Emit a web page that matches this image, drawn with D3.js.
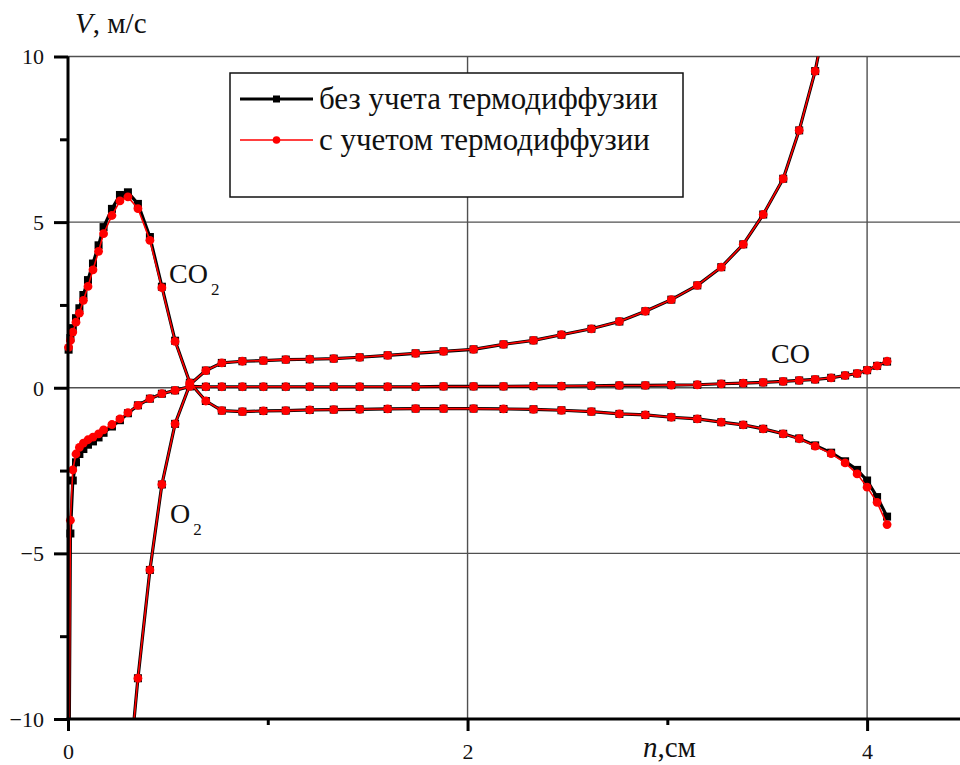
<!DOCTYPE html>
<html>
<head>
<meta charset="utf-8">
<script src="https://cdn.jsdelivr.net/npm/d3@7"></script>
<style>
  body { margin: 0; background: #fff; }
  svg text { font-family: "Liberation Serif", "Times New Roman", Tinos, "DejaVu Serif", serif !important; fill: #111; }
</style>
</head>
<body>
<div id="wrapper"></div>
<script>
// shared mesh along n, cm
const nGrid = [0.003, 0.012, 0.024, 0.04, 0.057, 0.077, 0.10, 0.125, 0.153, 0.178,
    0.22, 0.26, 0.30, 0.35, 0.41, 0.47, 0.536, 0.61, 0.69, 0.77,
    0.873, 0.978, 1.09, 1.21, 1.33, 1.46, 1.60, 1.74, 1.88, 2.03,
    2.18, 2.33, 2.47, 2.62, 2.76, 2.89, 3.02, 3.15, 3.27, 3.38,
    3.48, 3.58, 3.66, 3.74, 3.82, 3.89, 3.95, 4.00, 4.05, 4.10];

// CO2, without / with thermodiffusion
const co2Black = [1.15, 1.5, 1.8, 2.1, 2.4, 2.8, 3.25, 3.75, 4.3, 4.85,
    5.4, 5.82, 5.9, 5.55, 4.55, 3.05, 1.42, 0.15, -0.40, -0.69,
    -0.72, -0.70, -0.69, -0.67, -0.66, -0.65, -0.64, -0.63, -0.63, -0.63,
    -0.64, -0.65, -0.68, -0.72, -0.79, -0.82, -0.89, -0.94, -1.04, -1.12,
    -1.24, -1.39, -1.53, -1.74, -1.96, -2.22, -2.48, -2.80, -3.30, -3.89];
const co2Red = [1.22, 1.43, 1.68, 1.98, 2.25, 2.64, 3.06, 3.56, 4.12, 4.65,
    5.2, 5.64, 5.76, 5.41, 4.45, 3.02, 1.40, 0.15, -0.40, -0.69,
    -0.72, -0.70, -0.69, -0.67, -0.66, -0.65, -0.64, -0.63, -0.63, -0.63,
    -0.64, -0.65, -0.68, -0.72, -0.79, -0.82, -0.89, -0.94, -1.04, -1.12,
    -1.24, -1.39, -1.54, -1.76, -1.99, -2.27, -2.60, -3.00, -3.46, -4.13];

// O2 (both series coincide)
const o2Black = [null, null, null, null, null, null, null, null, null, null,
    null, null, -12.0, -8.77, -5.5, -2.92, -1.09, 0.10, 0.52, 0.75,
    0.80, 0.82, 0.85, 0.86, 0.88, 0.92, 0.98, 1.04, 1.10, 1.16,
    1.31, 1.43, 1.60, 1.78, 2.00, 2.31, 2.66, 3.09, 3.64, 4.33,
    5.23, 6.31, 7.77, 9.56, 12.0, null, null, null, null, null];
const o2Red = o2Black.slice();

// CO
const coBlack = [-14, -4.4, -2.8, -2.25, -2.0, -1.85, -1.72, -1.62, -1.5, -1.36,
    -1.17, -0.98, -0.77, -0.53, -0.33, -0.18, -0.08, 0.04, 0.03, 0.03,
    0.03, 0.03, 0.03, 0.03, 0.03, 0.03, 0.03, 0.03, 0.04, 0.04,
    0.04, 0.05, 0.05, 0.06, 0.07, 0.07, 0.08, 0.09, 0.12, 0.14,
    0.16, 0.19, 0.22, 0.25, 0.30, 0.37, 0.43, 0.53, 0.66, 0.79];
const coRed = [-14, -4.0, -2.48, -2.0, -1.8, -1.67, -1.57, -1.49, -1.39, -1.27,
    -1.11, -0.94, -0.75, -0.53, -0.33, -0.18, -0.08, 0.04, 0.03, 0.03,
    0.03, 0.03, 0.03, 0.03, 0.03, 0.03, 0.03, 0.03, 0.04, 0.04,
    0.04, 0.05, 0.05, 0.06, 0.07, 0.07, 0.08, 0.09, 0.12, 0.14,
    0.16, 0.19, 0.22, 0.25, 0.30, 0.37, 0.43, 0.53, 0.66, 0.80];

const yMajor = [-10, -5, 0, 5, 10];
const yMinor = [-7.5, -2.5, 2.5, 7.5];
const xMajor = [0, 2, 4];
const xMinor = [1, 3];
const legendLabels = ["без учета термодиффузии", "с учетом термодиффузии"];

const serif = "'Liberation Serif', 'Times New Roman', Tinos, 'DejaVu Serif', serif";

let dimensions = {
    width: 960,
    height: 765,
    left: 68,
    top: 56.5,
    bottom: 719
}

const xScale = d3.scaleLinear().domain([0, 4.465]).range([dimensions.left, dimensions.width]);
const yScale = d3.scaleLinear().domain([-10, 10]).range([dimensions.bottom, dimensions.top]);

const svg = d3.select("#wrapper")
    .append("svg")
    .attr("width", dimensions.width)
    .attr("height", dimensions.height)
    .attr("font-family", serif);

svg.append("defs").append("clipPath").attr("id", "plot-clip")
    .append("rect")
    .attr("x", 0).attr("y", dimensions.top)
    .attr("width", dimensions.width)
    .attr("height", dimensions.bottom - dimensions.top);

// grid
const grid = svg.append("g").attr("stroke", "#505050").attr("stroke-width", 1.4);
grid.selectAll(".hg").data(yMajor.filter(d => d > -10)).enter().append("line")
    .attr("x1", dimensions.left).attr("x2", dimensions.width)
    .attr("y1", d => yScale(d)).attr("y2", d => yScale(d));
grid.selectAll(".vg").data(xMajor.filter(d => d > 0)).enter().append("line")
    .attr("y1", dimensions.top).attr("y2", dimensions.bottom)
    .attr("x1", d => xScale(d)).attr("x2", d => xScale(d));

// curves
const curves = [
    { vals: co2Black, color: "#000", width: 3.2, marker: "square" },
    { vals: o2Black, color: "#000", width: 3.2, marker: "square" },
    { vals: coBlack, color: "#000", width: 3.2, marker: "square" },
    { vals: co2Red, color: "#ff0000", width: 1.6, marker: "circle" },
    { vals: o2Red, color: "#ff0000", width: 1.6, marker: "circle" },
    { vals: coRed, color: "#ff0000", width: 1.6, marker: "circle" }
];

const plot = svg.append("g").attr("clip-path", "url(#plot-clip)");

const line = d3.line()
    .defined(d => d[1] != null)
    .x(d => xScale(d[0]))
    .y(d => yScale(d[1]));

curves.forEach(function (c) {
    const pts = nGrid.map((n, i) => [n, c.vals[i]]);
    const g = plot.append("g");
    g.append("path")
        .datum(pts)
        .attr("d", line)
        .attr("fill", "none")
        .attr("stroke", c.color)
        .attr("stroke-width", c.width)
        .attr("stroke-linejoin", "round");
    const shown = pts.filter(d => d[1] != null);
    if (c.marker == "square") {
        g.selectAll("rect").data(shown).enter().append("rect")
            .attr("x", d => xScale(d[0]) - 4)
            .attr("y", d => yScale(d[1]) - 4)
            .attr("width", 8).attr("height", 8)
            .attr("fill", c.color);
    } else {
        g.selectAll("circle").data(shown).enter().append("circle")
            .attr("cx", d => xScale(d[0]))
            .attr("cy", d => yScale(d[1]))
            .attr("r", 4.4)
            .attr("fill", c.color);
    }
});

// axes
const yAxis = svg.append("g")
    .attr("transform", `translate(${dimensions.left},0)`)
    .call(d3.axisLeft(yScale).tickValues(yMajor).tickSize(14).tickPadding(10).tickFormat(d3.format("d")));
const yAxisMinor = svg.append("g")
    .attr("transform", `translate(${dimensions.left},0)`)
    .call(d3.axisLeft(yScale).tickValues(yMinor).tickSize(8).tickFormat(""));
const xAxis = svg.append("g")
    .attr("transform", `translate(0,${dimensions.bottom})`)
    .call(d3.axisBottom(xScale).tickValues(xMajor).tickSize(12).tickPadding(12).tickFormat(d3.format("d")));
const xAxisMinor = svg.append("g")
    .attr("transform", `translate(0,${dimensions.bottom})`)
    .call(d3.axisBottom(xScale).tickValues(xMinor).tickSize(6).tickFormat(""));

[yAxis, yAxisMinor, xAxis, xAxisMinor].forEach(function (a) {
    a.attr("font-family", serif);
    a.select(".domain").remove();
    a.selectAll("line").attr("stroke", "#000").attr("stroke-width", 3);
    a.selectAll("text").attr("font-size", 22).attr("fill", "#111");
});
yAxis.selectAll("text").attr("dy", "0.34em");

svg.append("line")
    .attr("x1", dimensions.left).attr("x2", dimensions.left)
    .attr("y1", dimensions.top).attr("y2", dimensions.bottom + 1.5)
    .attr("stroke", "#000").attr("stroke-width", 3);
svg.append("line")
    .attr("x1", dimensions.left - 1.5).attr("x2", dimensions.width)
    .attr("y1", dimensions.bottom).attr("y2", dimensions.bottom)
    .attr("stroke", "#000").attr("stroke-width", 3);

// axis titles
const yTitle = svg.append("text").attr("x", 75).attr("y", 33).attr("font-size", 29);
yTitle.append("tspan").attr("font-style", "italic").text("V");
yTitle.append("tspan").text(", м/с");

const xTitle = svg.append("text").attr("x", 643).attr("y", 757).attr("font-size", 29);
xTitle.append("tspan").attr("font-style", "italic").text("n");
xTitle.append("tspan").text(",см");

// curve labels
function gasLabel(x, y, main, sub) {
    const t = svg.append("text").attr("x", x).attr("y", y).attr("font-size", 28);
    t.append("tspan").text(main);
    if (sub) {
        t.append("tspan").attr("dy", 12).attr("dx", 3).attr("font-size", 17).text(sub);
    }
}
gasLabel(169, 283, "CO", "2");
gasLabel(170, 523, "O", "2");
gasLabel(771, 363, "CO", null);

// legend
const legend = svg.append("g");
legend.append("rect")
    .attr("x", 230).attr("y", 73).attr("width", 453).attr("height", 124)
    .attr("fill", "#fff").attr("stroke", "#111").attr("stroke-width", 1.5);

const legendItems = [
    { label: legendLabels[0], color: "#000", width: 3.2, marker: "square", y: 99 },
    { label: legendLabels[1], color: "#ff0000", width: 1.6, marker: "circle", y: 140 }
];
legendItems.forEach(function (item) {
    legend.append("line")
        .attr("x1", 240).attr("x2", 313)
        .attr("y1", item.y).attr("y2", item.y)
        .attr("stroke", item.color).attr("stroke-width", item.width);
    if (item.marker == "square") {
        legend.append("rect").attr("x", 273).attr("y", item.y - 3.5)
            .attr("width", 7).attr("height", 7).attr("fill", item.color);
    } else {
        legend.append("circle").attr("cx", 276.5).attr("cy", item.y)
            .attr("r", 3.8).attr("fill", item.color);
    }
    legend.append("text")
        .attr("x", 319).attr("y", item.y + 10)
        .attr("font-size", 31)
        .text(item.label);
});
</script>
</body>
</html>
